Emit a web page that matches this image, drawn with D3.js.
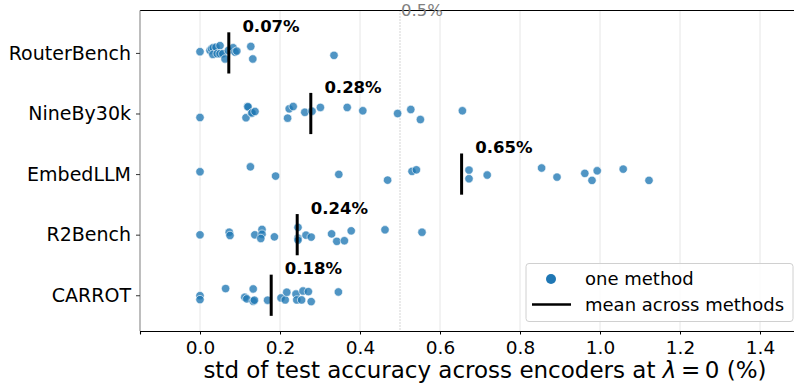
<!DOCTYPE html>
<head>
  <meta charset='utf-8'>
  <script src='https://d3js.org/d3.v7.min.js'></script>
  <style>
    body { margin: 0; background: #fff; }
    svg text { font-family: 'DejaVu Sans', sans-serif; }
  </style>
</head>

<body>
  <script>

// benchmarks, top to bottom
const categories = ['RouterBench', 'NineBy30k', 'EmbedLLM', 'R2Bench', 'CARROT'];

// std (%) of each method, with its strip jitter (in category units)
const routerBenchStd = [0.0, 0.025, 0.029, 0.033, 0.04, 0.05, 0.032, 0.043, 0.05, 0.057, 0.0625, 0.071, 0.083, 0.0875, 0.092, 0.127, 0.132, 0.335];
const routerBenchJit = [-0.02, -0.04, -0.07, -0.085, -0.095, -0.12, 0.025, 0.013, 0.013, 0.013, 0.10, -0.04, -0.085, -0.013, -0.03, -0.107, 0.10, 0.04];

const nineBy30kStd = [0.0, 0.115, 0.119, 0.12, 0.129, 0.13, 0.1375, 0.219, 0.223, 0.233, 0.262, 0.28, 0.301, 0.368, 0.407, 0.494, 0.527, 0.551, 0.656];
const nineBy30kJit = [0.066, 0.07, -0.115, -0.11, -0.005, -0.01, -0.033, 0.077, -0.077, -0.115, -0.02, -0.038, -0.1, -0.1, -0.045, 0.0, -0.066, 0.1, -0.045];

const embedLLMStd = [0.0, 0.126, 0.189, 0.347, 0.469, 0.53, 0.541, 0.6725, 0.6725, 0.718, 0.854, 0.8925, 0.962, 0.98, 0.993, 1.058, 1.1225];
const embedLLMJit = [-0.038, -0.12, 0.033, 0.005, 0.1, -0.045, -0.07, -0.066, 0.077, 0.016, -0.1, 0.05, -0.012, 0.104, -0.054, -0.082, 0.104];

const r2BenchStd = [0.0, 0.073, 0.075, 0.137, 0.155, 0.155, 0.152, 0.186, 0.245, 0.245, 0.245, 0.265, 0.278, 0.329, 0.342, 0.361, 0.378, 0.4625, 0.555];
const r2BenchJit = [0.003, -0.04, 0.013, 0.003, -0.086, -0.008, 0.063, 0.036, -0.12, 0.06, 0.09, 0.008, 0.04, -0.013, 0.11, 0.1, -0.063, -0.08, -0.04];

const carrotStd = [0.0, 0.0, 0.064, 0.112, 0.117, 0.133, 0.133, 0.136, 0.169, 0.2025, 0.213, 0.217, 0.24, 0.242, 0.254, 0.2575, 0.271, 0.278, 0.346];
const carrotJit = [0.007, 0.072, -0.11, 0.033, 0.06, -0.104, 0.1, 0.082, 0.082, 0.044, 0.077, -0.05, -0.02, 0.077, 0.077, -0.07, -0.06, 0.105, -0.054];

// mean across methods, per benchmark
const means = [0.072, 0.277, 0.654, 0.243, 0.178];

const xTicks = [0.0, 0.2, 0.4, 0.6, 0.8, 1.0, 1.2, 1.4];
const refLine = 0.5;

const stds = [routerBenchStd, nineBy30kStd, embedLLMStd, r2BenchStd, carrotStd];
const jits = [routerBenchJit, nineBy30kJit, embedLLMJit, r2BenchJit, carrotJit];

const points = [];
stds.forEach((arr, ci) => arr.forEach((v, i) => points.push({cat: ci, value: v, jit: jits[ci][i]})));

const width = 794, height = 385;
const plotLeft = 140, plotRight = 800, plotTop = 10.5, plotBottom = 331;

const svg = d3.select('body').append('svg').attr('width', width).attr('height', height);

const x = d3.scaleLinear().domain([-0.15, 1.5]).range([plotLeft, plotRight]);
const y = d3.scaleLinear().domain([-0.7, 4.59]).range([plotTop, plotBottom]);

// grid
svg.append('g')
  .selectAll('line')
  .data(xTicks)
  .enter().append('line')
  .attr('x1', d => x(d)).attr('x2', d => x(d))
  .attr('y1', plotTop).attr('y2', plotBottom)
  .attr('stroke', '#e6e6e6')
  .attr('stroke-width', 1);

// 0.5% reference
svg.append('line')
  .attr('x1', x(refLine)).attr('x2', x(refLine))
  .attr('y1', plotTop).attr('y2', plotBottom)
  .attr('stroke', '#aaa')
  .attr('stroke-width', 1)
  .attr('stroke-dasharray', '1,2');

// spines
svg.append('line').attr('x1', plotLeft).attr('x2', plotRight).attr('y1', plotTop).attr('y2', plotTop)
  .attr('stroke', '#000').attr('stroke-width', 1.1);
svg.append('line').attr('x1', plotLeft).attr('x2', plotLeft).attr('y1', plotTop).attr('y2', plotBottom)
  .attr('stroke', '#888').attr('stroke-width', 1.1);

svg.append('text')
  .attr('x', x(refLine) + 1)
  .attr('y', 16)
  .attr('font-size', 16.5)
  .attr('fill', '#808080')
  .text('0.5%');

// points
svg.append('g')
  .selectAll('circle')
  .data(points)
  .enter().append('circle')
  .attr('cx', d => x(d.value))
  .attr('cy', d => y(d.cat + d.jit))
  .attr('r', 4.2)
  .attr('fill', '#1f77b4')
  .attr('fill-opacity', 0.78)
  .attr('stroke', '#fff')
  .attr('stroke-width', 0.6);

// means
const mg = svg.append('g')
  .selectAll('g')
  .data(means)
  .enter().append('g');

mg.append('line')
  .attr('x1', d => x(d)).attr('x2', d => x(d))
  .attr('y1', (d, i) => y(i - 0.34)).attr('y2', (d, i) => y(i + 0.34))
  .attr('stroke', '#000')
  .attr('stroke-width', 3);

mg.append('text')
  .attr('x', d => x(d + 0.034))
  .attr('y', (d, i) => y(i - 0.345))
  .attr('font-size', 16.5)
  .attr('font-weight', 'bold')
  .text(d => d.toFixed(2) + '%');

// x axis
const xAxis = svg.append('g')
  .attr('transform', `translate(0,${plotBottom})`)
  .call(d3.axisBottom(x).tickValues(xTicks).tickFormat(d3.format('.1f')).tickSize(3.5).tickPadding(6));
xAxis.select('.domain').attr('stroke', '#000').attr('stroke-width', 1.1);
xAxis.selectAll('.tick line').attr('stroke', '#000');
xAxis.selectAll('.tick text')
  .attr('font-size', 18.5)
  .attr('font-family', 'DejaVu Sans')
  .attr('fill', '#000');

// y axis
const yAxis = svg.append('g')
  .attr('transform', `translate(${plotLeft},0)`)
  .call(d3.axisLeft(y).tickValues(d3.range(categories.length)).tickFormat(i => categories[i]).tickSize(4).tickPadding(5));
yAxis.select('.domain').remove();
yAxis.selectAll('.tick line').attr('stroke', '#333');
yAxis.selectAll('.tick text')
  .attr('font-size', 19)
  .attr('font-family', 'DejaVu Sans')
  .attr('fill', '#000');

// x label
const xl = svg.append('text')
  .attr('x', 485)
  .attr('y', 378)
  .attr('text-anchor', 'middle')
  .attr('font-size', 23);
xl.append('tspan').text('std of test accuracy across encoders at ');
xl.append('tspan').attr('font-style', 'italic').text('λ');
xl.append('tspan').text('\u2009=\u20090 (%)');

// legend
const lg = svg.append('g').attr('transform', 'translate(526,263.5)');
lg.append('rect')
  .attr('width', 267).attr('height', 58)
  .attr('rx', 3)
  .attr('fill', '#fff').attr('fill-opacity', 0.8)
  .attr('stroke', '#d0d0d0');
lg.append('circle').attr('cx', 25).attr('cy', 15.5).attr('r', 5).attr('fill', '#1f77b4');
lg.append('line').attr('x1', 6).attr('x2', 45).attr('y1', 41).attr('y2', 41)
  .attr('stroke', '#000').attr('stroke-width', 2.5);
lg.append('text').attr('x', 59).attr('y', 21.5).attr('font-size', 18).text('one method');
lg.append('text').attr('x', 59).attr('y', 47.5).attr('font-size', 18).text('mean across methods');

  </script>
</body>
